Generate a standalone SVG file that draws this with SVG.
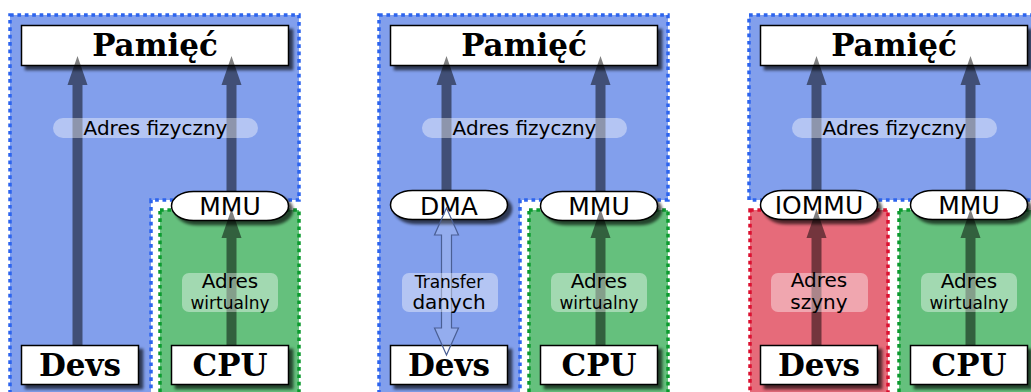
<svg xmlns="http://www.w3.org/2000/svg" width="1031" height="392" viewBox="0 0 1031 392">
<defs>
<filter id="sh" x="-10%" y="-20%" width="130%" height="160%">
<feGaussianBlur in="SourceAlpha" stdDeviation="1.5"/>
<feOffset dx="4" dy="4" result="o"/>
<feComponentTransfer><feFuncA type="linear" slope="0.65"/></feComponentTransfer>
<feMerge><feMergeNode/><feMergeNode in="SourceGraphic"/></feMerge>
</filter>
</defs>
<style>
.blue{fill:#829fec;stroke:#2c64ee;stroke-width:3.5;stroke-dasharray:3.7 3.7}
.green{fill:#65c07d;stroke:#0c9a2f;stroke-width:3.5;stroke-dasharray:3.7 3.7}
.red{fill:#e66b7a;stroke:#dc1030;stroke-width:3.5;stroke-dasharray:3.7 3.7}
.box{fill:#fff;stroke:#000;stroke-width:1.5;filter:url(#sh)}
.big{font-family:"DejaVu Serif",serif;font-weight:bold;font-size:31px;text-anchor:middle;fill:#000}
.unit{font-family:"DejaVu Sans",sans-serif;font-size:25px;text-anchor:middle;fill:#000}
.lbl{font-family:"DejaVu Sans",sans-serif;font-size:20px;text-anchor:middle;fill:#000}
.sm{font-family:"DejaVu Sans",sans-serif;font-size:17px;text-anchor:middle;fill:#000}
.pill{fill:#fff;fill-opacity:0.4}
.arr{fill:#000;fill-opacity:0.5}
.dbl{fill:#fff;fill-opacity:0.15;stroke:#4a5f94;stroke-width:1.2}
</style>
<rect width="1031" height="392" fill="#fff"/>
<g id="regions">
<path class="blue" d="M10,15 H299 V200 H151 V400 H10 Z"/>
<rect class="green" x="160" y="210" width="139" height="200"/>
<path class="blue" d="M379,15 H668 V200 H520 V400 H379 Z"/>
<rect class="green" x="529" y="210" width="139" height="200"/>
<path class="blue" d="M749,15 H1045 V200 H749 Z"/>
<rect class="red" x="750" y="210" width="138" height="200"/>
<rect class="green" x="899" y="210" width="139" height="200"/>
</g>
<g id="p1-mem"><rect class="box" x="21.5" y="25.5" width="267" height="40"/><text class="big" x="155" y="56">Pamięć</text></g>
<g id="p1-devs"><rect class="box" x="21.5" y="345.5" width="117" height="39"/><text class="big" x="80" y="376">Devs</text></g>
<g id="p1-cpu"><rect class="box" x="171.5" y="345.5" width="117" height="39"/><text class="big" x="230" y="376">CPU</text></g>
<g id="p1-mmu"><rect class="box" x="171.5" y="191.5" width="117" height="29" rx="22" ry="14.5"/><text class="unit" x="230" y="215">MMU</text></g>
<g id="p2-mem"><rect class="box" x="390.5" y="25.5" width="267" height="40"/><text class="big" x="524" y="56">Pamięć</text></g>
<g id="p2-devs"><rect class="box" x="390.5" y="345.5" width="117" height="39"/><text class="big" x="449" y="376">Devs</text></g>
<g id="p2-cpu"><rect class="box" x="540.5" y="345.5" width="117" height="39"/><text class="big" x="599" y="376">CPU</text></g>
<g id="p2-mmu"><rect class="box" x="540.5" y="191.5" width="117" height="29" rx="22" ry="14.5"/><text class="unit" x="599" y="215">MMU</text></g>
<g id="p2-dma"><rect class="box" x="390.5" y="190.5" width="117" height="29" rx="22" ry="14.5"/><text class="unit" x="449" y="215">DMA</text></g>
<g id="p3-mem"><rect class="box" x="760.5" y="25.5" width="267" height="40"/><text class="big" x="894" y="56">Pamięć</text></g>
<g id="p3-devs"><rect class="box" x="760.5" y="345.5" width="117" height="39"/><text class="big" x="819" y="376">Devs</text></g>
<g id="p3-cpu"><rect class="box" x="910.5" y="345.5" width="117" height="39"/><text class="big" x="969" y="376">CPU</text></g>
<g id="p3-iommu"><rect class="box" x="760.5" y="190.5" width="117" height="29" rx="22" ry="14.5"/><text class="unit" x="819" y="214">IOMMU</text></g>
<g id="p3-mmu"><rect class="box" x="910.5" y="190.5" width="117" height="29" rx="22" ry="14.5"/><text class="unit" x="969" y="214">MMU</text></g>
<g id="connectors">
<path class="arr" d="M72.5,345 V85 H67.5 L77.5,56 L87.5,85 H82.5 V345 Z"/>
<path class="arr" d="M226.5,191 V85 H221.5 L231.5,56 L241.5,85 H236.5 V191 Z"/>
<path class="arr" d="M226.5,345 V238 H221.5 L231.5,209 L241.5,238 H236.5 V345 Z"/>
<path class="arr" d="M441.5,190 V85 H436.5 L446.5,56 L456.5,85 H451.5 V190 Z"/>
<path class="arr" d="M595.5,191 V85 H590.5 L600.5,56 L610.5,85 H605.5 V191 Z"/>
<path class="arr" d="M595.5,345 V238 H590.5 L600.5,209 L610.5,238 H605.5 V345 Z"/>
<path class="dbl" d="M446.5,208 L458.5,235 H451.5 V328 H458.5 L446.5,355 L434.5,328 H441.5 V235 H434.5 Z"/>
<path class="arr" d="M811.5,190 V85 H806.5 L816.5,56 L826.5,85 H821.5 V190 Z"/>
<path class="arr" d="M811.5,345 V238 H806.5 L816.5,209 L826.5,238 H821.5 V345 Z"/>
<path class="arr" d="M965.5,190 V85 H960.5 L970.5,56 L980.5,85 H975.5 V190 Z"/>
<path class="arr" d="M965.5,345 V238 H960.5 L970.5,209 L980.5,238 H975.5 V345 Z"/>
</g>
<g id="labels">
<rect class="pill" x="53" y="118" width="205" height="20" rx="10"/>
<text class="lbl" x="155.5" y="135">Adres fizyczny</text>
<rect class="pill" x="182" y="273" width="96" height="39" rx="7"/>
<text class="lbl" x="230" y="288">Adres</text>
<text class="sm" x="230" y="309">wirtualny</text>
<rect class="pill" x="422" y="118" width="205" height="20" rx="10"/>
<text class="lbl" x="524.5" y="135">Adres fizyczny</text>
<rect class="pill" x="402" y="273" width="96" height="39" rx="7"/>
<text class="sm" x="449" y="288">Transfer</text>
<text class="lbl" x="449" y="309">danych</text>
<rect class="pill" x="551" y="273" width="96" height="39" rx="7"/>
<text class="lbl" x="599" y="288">Adres</text>
<text class="sm" x="599" y="309">wirtualny</text>
<rect class="pill" x="792" y="118" width="205" height="20" rx="10"/>
<text class="lbl" x="894.5" y="135">Adres fizyczny</text>
<rect class="pill" x="771" y="273" width="97" height="39" rx="7"/>
<text class="lbl" x="819" y="287">Adres</text>
<text class="lbl" x="819" y="309">szyny</text>
<rect class="pill" x="921" y="273" width="96" height="39" rx="7"/>
<text class="lbl" x="969" y="288">Adres</text>
<text class="sm" x="969" y="309">wirtualny</text>
</g>
</svg>
